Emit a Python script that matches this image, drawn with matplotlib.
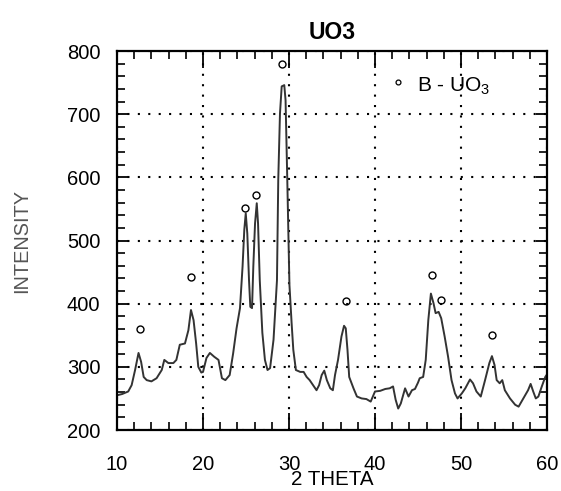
import numpy as np
import matplotlib.pyplot as plt
from matplotlib.ticker import MultipleLocator

plt.rcParams['font.family']=['Liberation Sans','DejaVu Sans']
plt.rcParams['mathtext.fontset']='custom'
plt.rcParams['mathtext.rm']='Liberation Sans'

# diffraction scan
two_theta=[10.0,10.6,11.3,11.7,12.1,12.5,12.8,13.1,13.45,14.0,14.6,15.2,15.5,15.97,16.55,16.9,
           17.3,17.9,18.3,18.6,18.9,19.2,19.45,19.8,20.0,20.4,20.8,21.3,21.8,22.2,22.6,23.1,
           23.5,23.9,24.3,24.6,24.8,24.97,25.15,25.35,25.5,25.7,25.85,26.05,26.25,26.4,26.6,26.9,
           27.2,27.5,27.8,28.2,28.6,28.75,28.95,29.15,29.45,29.6,29.8,30.05,30.3,30.5,30.8,31.3,
           31.7,32.05,32.4,32.8,33.2,33.5,33.8,34.1,34.4,34.8,35.1,35.35,35.7,36.1,36.4,36.6,
           36.8,37.0,37.5,37.9,38.45,39.0,39.5,40.0,40.6,41.2,41.7,42.1,42.4,42.7,43.0,43.5,
           43.9,44.3,44.65,45.0,45.2,45.6,45.9,46.2,46.5,46.8,47.05,47.4,47.7,48.1,48.5,48.9,
           49.3,49.6,50.1,50.5,51.05,51.4,51.8,52.3,52.8,53.3,53.6,53.9,54.15,54.5,54.8,55.1,
           55.7,56.3,56.7,57.25,57.8,58.1,58.4,58.7,59.0,59.4,59.8,60.0]
intensity=[255,257,261,271,295,322,308,284,279,277,282,295,311,306,306,311,
           335,337,358,390,374,337,300,291,292,314,322,316,311,282,279,287,
           321,361,393,459,517,543,511,437,395,393,459,527,559,527,437,354,
           311,295,298,343,437,596,701,744,746,722,596,430,370,327,295,292,
           292,284,279,271,263,271,287,294,279,266,263,287,311,348,365,361,
           327,284,266,253,250,249,245,261,262,265,266,269,248,234,242,266,
           253,263,265,275,282,284,311,374,416,401,385,387,377,348,316,279,
           258,250,258,266,280,274,261,253,279,306,317,303,279,274,279,263,
           250,240,237,250,263,273,261,250,253,269,284,288]

# B-UO3 reflections
peak_x=[12.67,18.6,24.9,26.2,29.2,36.6,46.6,47.7,53.6]
peak_y=[360,442,552,572,779,404,445,406,351]

fig=plt.figure(figsize=(5.61,4.91),dpi=100)
ax1=fig.add_axes([0.2086,0.1242,0.7664,0.7719])

ax1.plot(two_theta,intensity,color='#333333',lw=1.4)
ax1.plot(peak_x,peak_y,'o',ms=5,mfc='none',mec='black',mew=1)

# legend entry
ax1.plot([42.7],[751],'o',ms=3.5,mfc='none',mec='black',mew=0.9)
ax1.text(44.9,744,r'B - UO$_\mathregular{3}$',fontsize=15,va='center',ha='left')

ax1.set_xlim([10,60])
ax1.set_ylim([200,800])
ax1.xaxis.set_major_locator(MultipleLocator(10))
ax1.xaxis.set_minor_locator(MultipleLocator(2))
ax1.yaxis.set_major_locator(MultipleLocator(100))
ax1.yaxis.set_minor_locator(MultipleLocator(20))
ax1.tick_params(axis='x',which='major',direction='in',length=12,width=1.3,top=True,labelsize=14.5,pad=18)
ax1.tick_params(axis='x',which='minor',direction='in',length=6,width=1.2,top=True)
ax1.tick_params(axis='y',which='major',direction='in',length=8,width=1.3,right=True,labelsize=14.5,pad=12)
ax1.tick_params(axis='y',which='minor',direction='in',length=6,width=1.2,right=True)
for s in ax1.spines.values():
    s.set_linewidth(1.6)

ax1.grid(True,which='major',color='black',linestyle=(0,(1,4)),linewidth=1.5)

ax1.set_title('UO3',fontsize=16.5,fontweight='bold',pad=9)
ax1.set_xlabel('2 THETA',fontsize=14.8,labelpad=-3)
ax1.set_ylabel('INTENSITY',fontsize=14.3,color='#555555')
ax1.yaxis.set_label_coords(-0.2,0.5)

fig.savefig('out.png',dpi=100)
